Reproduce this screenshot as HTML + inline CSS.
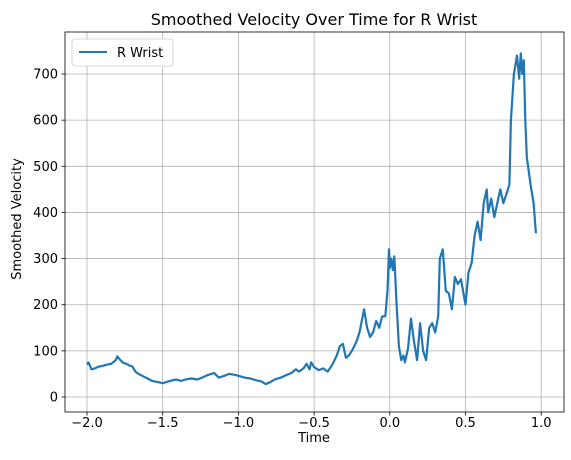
<!DOCTYPE html>
<html><head><meta charset="utf-8"><style>
body{margin:0;background:#fff;font-family:"Liberation Sans","DejaVu Sans",sans-serif;}
svg text{font-family:"DejaVu Sans","Liberation Sans",sans-serif;}
</style></head><body>
<svg id="c" width="571" height="455"></svg>
<script>
const xs=[-2.0,-1.99,-1.97,-1.95,-1.92,-1.9,-1.87,-1.84,-1.81,-1.8,-1.78,-1.76,-1.74,-1.72,-1.7,-1.68,-1.66,-1.63,-1.6,-1.57,-1.54,-1.5,-1.47,-1.44,-1.41,-1.38,-1.35,-1.31,-1.27,-1.24,-1.2,-1.16,-1.13,-1.1,-1.06,-1.02,-1.0,-0.96,-0.92,-0.88,-0.85,-0.82,-0.79,-0.76,-0.72,-0.68,-0.65,-0.62,-0.6,-0.57,-0.55,-0.53,-0.52,-0.5,-0.47,-0.44,-0.41,-0.38,-0.35,-0.33,-0.31,-0.29,-0.27,-0.25,-0.22,-0.2,-0.17,-0.15,-0.13,-0.11,-0.09,-0.07,-0.05,-0.03,-0.015,-0.005,0.0,0.01,0.02,0.03,0.045,0.06,0.075,0.09,0.1,0.12,0.14,0.16,0.18,0.2,0.22,0.24,0.26,0.28,0.3,0.32,0.33,0.35,0.37,0.39,0.41,0.43,0.45,0.47,0.5,0.52,0.54,0.56,0.58,0.6,0.62,0.64,0.65,0.67,0.69,0.71,0.73,0.75,0.77,0.79,0.8,0.82,0.84,0.855,0.865,0.875,0.885,0.895,0.905,0.93,0.95,0.965,0.975,0.985];
const ys=[70,75,60,62,66,67,70,72,80,88,80,74,72,68,66,55,50,45,40,35,33,30,33,36,38,35,38,40,38,42,48,52,42,45,50,48,46,42,40,36,34,28,32,38,42,48,52,60,55,62,72,60,75,65,58,62,55,70,90,110,115,85,90,100,120,140,190,150,130,140,165,150,175,175,230,320,280,300,275,305,200,110,80,90,75,105,170,120,80,160,100,80,150,160,140,175,300,320,230,225,190,260,245,255,200,270,290,350,380,340,420,450,400,430,390,420,450,420,440,460,600,700,740,690,745,700,730,600,520,460,420,355];
const X0=87,XS=151.4,Y0=397,YS=0.4614;
const sx=v=>X0+(v+2)*XS, sy=v=>Y0-v*YS;
const xticks=[-2.0,-1.5,-1.0,-0.5,0.0,0.5,1.0];
const yticks=[0,100,200,300,400,500,600,700];
const svg=document.getElementById('c');const NS='http://www.w3.org/2000/svg';
function el(t,a,txt){const e=document.createElementNS(NS,t);for(const k in a)e.setAttribute(k,a[k]);if(txt!=null)e.textContent=txt;svg.appendChild(e);return e;}
const L=65,R=564,T=32,B=412;
xticks.forEach(v=>{const g=el('line',{x1:sx(v),x2:sx(v),y1:T,y2:B,stroke:'#b0b0b0','stroke-width':0.8});

el('line',{x1:sx(v),x2:sx(v),y1:B,y2:B+3.5,stroke:'#000','stroke-width':0.8});
const l=el('text',{x:sx(v),y:B+15,'font-size':13,'text-anchor':'middle'},v.toFixed(1).replace('-','\u2212'));
});
yticks.forEach(v=>{const g=el('line',{x1:L,x2:R,y1:sy(v),y2:sy(v),stroke:'#b0b0b0','stroke-width':0.8});

el('line',{x1:L-3.5,x2:L,y1:sy(v),y2:sy(v),stroke:'#000','stroke-width':0.8});
const l=el('text',{x:L-7,y:sy(v)+4.5,'font-size':13,'text-anchor':'end'},String(v));
});
const p=el('polyline',{points:xs.map((x,i)=>sx(x).toFixed(1)+','+sy(ys[i]).toFixed(1)).join(' '),fill:'none',stroke:'#1f77b4','stroke-width':2.2,'stroke-linejoin':'round'});

const f=el('rect',{x:L,y:T,width:R-L,height:B-T,fill:'none',stroke:'#000','stroke-width':0.8});

</script>
<svg style="position:absolute;left:0;top:0" width="571" height="455">
<text x="314" y="25" font-size="16" text-anchor="middle">Smoothed Velocity Over Time for R Wrist</text>
<text x="314" y="442" font-size="13" text-anchor="middle">Time</text>
<text x="21" y="219" font-size="13" text-anchor="middle" transform="rotate(-90 21 219)">Smoothed Velocity</text>
<g>
<rect x="72" y="39" width="101" height="27" rx="3" fill="#fff" stroke="#ccc" stroke-width="0.8"/>
<line x1="79" x2="107" y1="52" y2="52" stroke="#1f77b4" stroke-width="2"/>
<text x="117" y="57" font-size="13">R Wrist</text>
</g>
</svg>
</body></html>
